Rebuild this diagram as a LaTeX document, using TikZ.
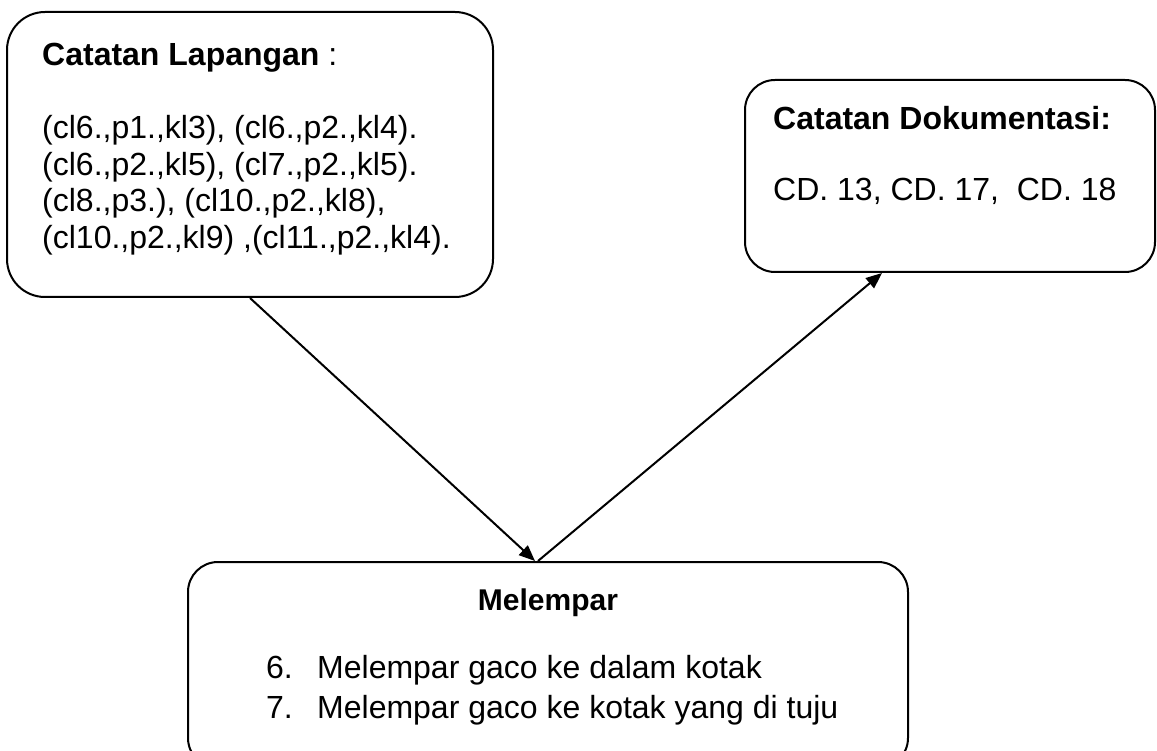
\documentclass[tikz,border=0pt]{standalone}
\usepackage{fontspec}
\setmainfont{Liberation Sans}
\usetikzlibrary{arrows.meta}
\usetikzlibrary{positioning}

\tikzset{
  box/.style={draw, line width=2pt, rounded corners=38pt, inner sep=0pt},
  txt/.style={anchor=base west, inner sep=0pt, font=\fontsize{32}{38}\selectfont},
  link/.style={line width=2pt, -{Triangle[length=16pt,width=13pt]}}
}

\begin{document}
\begin{tikzpicture}[x=1pt,y=-1pt]
	\useasboundingbox (0,0) rectangle (1157,751);
	% kotak
	\node[box, minimum width=486pt, minimum height=285pt] (lap) at (250,154.5) {};
	\node[box, rounded corners=30pt, minimum width=410pt, minimum height=192pt] (dok) at (950,176) {};
	\node[box, rounded corners=30pt, minimum width=720pt, minimum height=206pt] (mel) at (548,665) {};
	% catatan lapangan
	\node[txt] (lapjudul) at (42,66) {\textbf{Catatan Lapangan} :};
	\foreach \baris [count=\i] in {{(cl6.,p1.,kl3), (cl6.,p2.,kl4).},
			{(cl6.,p2.,kl5), (cl7.,p2.,kl5).},
			{(cl8.,p3.), (cl10.,p2.,kl8),},
			{(cl10.,p2.,kl9) ,(cl11.,p2.,kl4).}}
		\node[txt] (lap\i) at (42,{102.5+36.5*\i}) {\baris};
	% catatan dokumentasi
	\node[txt] (dokjudul) at (773,130) {\textbf{Catatan Dokumentasi:}};
	\node[txt] (dokisi) at (773,201) {CD. 13, CD. 17,\ \ CD. 18};
	% melempar
	\node[txt, anchor=base, font=\fontsize{30}{38}\selectfont] (meljudul) at (548,610) {\textbf{Melempar}};
	\foreach \n/\isi [count=\i] in {6/Melempar gaco ke dalam kotak, 7/Melempar gaco ke kotak yang di tuju} {
		\node[txt] (no\n) at (266,{638+40*\i}) {\n.};
		\node[txt] (isi\n) at (317,{638+40*\i}) {\isi};
	}
	% panah
	\draw[link] (lap.south) -- ([xshift=-13pt]mel.north);
	\draw[link] ([xshift=-10pt]mel.north) -- ([xshift=-68pt]dok.south);
\end{tikzpicture}
\end{document}
